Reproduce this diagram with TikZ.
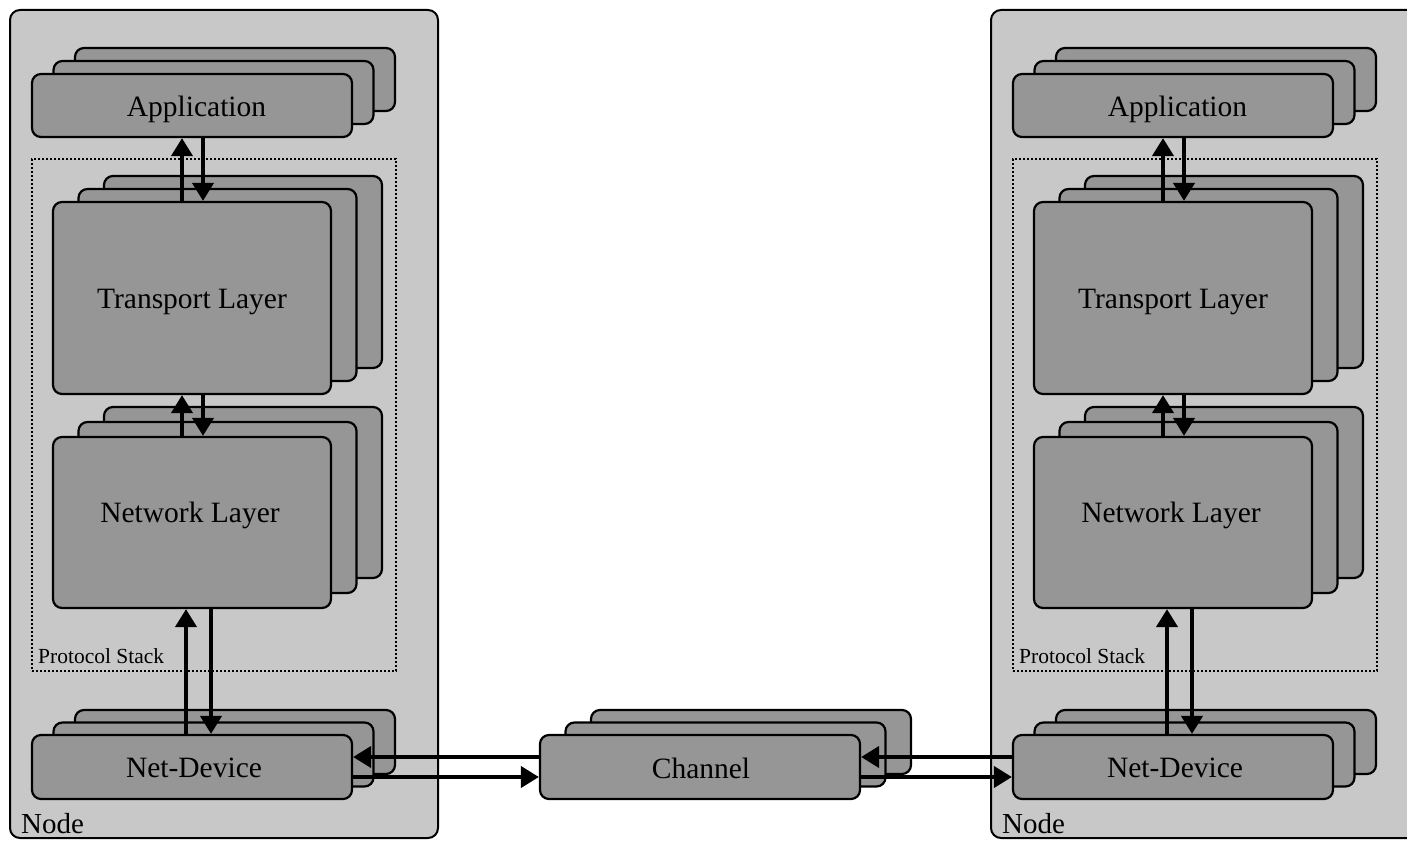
\documentclass[tikz,border=0pt]{standalone}
\usepackage{fontspec}
\setmainfont{Liberation Serif}
\usetikzlibrary{arrows.meta}
\definecolor{nodegray}{RGB}{200,200,200}
\definecolor{boxgray}{RGB}{150,150,150}
\tikzset{
  nodebg/.style={draw=black, line width=2pt, fill=nodegray, rounded corners=10pt, inner sep=0pt},
  layerbox/.style={draw=black, line width=2.2pt, fill=boxgray, rounded corners=9pt, inner sep=0pt},
  boxtext/.style={anchor=base, inner sep=0pt, font=\fontsize{29.5}{34}\selectfont},
  flow/.style={line width=4pt, -{Triangle[length=18pt,width=21pt]}},
  stackframe/.style={draw=black, line width=1.8pt, dash pattern=on 1.8pt off 2.2pt, inner sep=0pt},
  smalllabel/.style={anchor=base west, inner sep=0pt, font=\fontsize{21.5}{24}\selectfont},
  biglabel/.style={anchor=base west, inner sep=0pt, font=\fontsize{29}{34}\selectfont},
}
% name, cx, cy, w, h, dx, dy(lift), text, text x, text baseline
\newcommand\layerstack[7]{%
  \node[layerbox, minimum width=#4pt, minimum height=#5pt] (#1-b) at (#2+2*#6, #3-2*#7) {};
  \node[layerbox, minimum width=#4pt, minimum height=#5pt] (#1-m) at (#2+#6, #3-#7) {};
  \node[layerbox, minimum width=#4pt, minimum height=#5pt] (#1) at (#2, #3) {};
}
\newcommand\hoststack[1]{%
  \node[nodebg, minimum width=428pt, minimum height=828pt] (#1-node) at (224,424) {};
  \node[stackframe, minimum width=364pt, minimum height=512pt] (#1-ps) at (214,415) {};
  \node[smalllabel] (#1-pslabel) at (38,663) {Protocol Stack};
  \node[biglabel] (#1-nodelabel) at (21,833) {Node};
  \layerstack{#1-app}{192}{105.5}{320}{63}{21.5}{13}
  \node[boxtext] (#1-app-t) at (196.5,117) {Application};
  \layerstack{#1-tr}{192}{298}{278}{192}{25.5}{13}
  \node[boxtext] (#1-tr-t) at (192,308) {Transport Layer};
  \layerstack{#1-net}{192}{522.5}{278}{171}{25.5}{15}
  \node[boxtext] (#1-net-t) at (190,522) {Network Layer};
  \layerstack{#1-nd}{192}{767}{320}{64}{21.5}{12.5}
  \node[boxtext] (#1-nd-t) at (194,777) {Net-Device};
  \draw[flow] ([xshift=-10pt]#1-tr.north) -- ([xshift=-10pt]#1-app.south);
  \draw[flow] ([xshift=11pt]#1-app.south) -- ([xshift=11pt]#1-tr.north);
  \draw[flow] ([xshift=-10pt]#1-net.north) -- ([xshift=-10pt]#1-tr.south);
  \draw[flow] ([xshift=11pt]#1-tr.south) -- ([xshift=11pt]#1-net.north);
  \draw[flow] ([xshift=-6pt]#1-nd.north) -- ([xshift=-6pt]#1-net.south);
  \draw[flow] ([xshift=19pt]#1-net.south) -- ([xshift=19pt]#1-nd.north);
}
\begin{document}
\begin{tikzpicture}[x=1pt, y=-1pt]
  \useasboundingbox (0,0) rectangle (1407,840);
  \clip (0,0) rectangle (1407,840);
  \hoststack{L}
  \begin{scope}[xshift=981pt]
    \hoststack{R}
  \end{scope}
  \layerstack{ch}{700}{767}{320}{64}{25.5}{12.5}
  \node[boxtext] (ch-t) at (701,778) {Channel};
  \draw[flow] ([yshift=10pt]ch.west) -- ([yshift=10pt]L-nd.east);
  \draw[flow] ([yshift=-10pt]L-nd.east) -- ([yshift=-10pt]ch.west);
  \draw[flow] ([yshift=10pt]R-nd.west) -- ([yshift=10pt]ch.east);
  \draw[flow] ([yshift=-10pt]ch.east) -- ([yshift=-10pt]R-nd.west);
\end{tikzpicture}
\end{document}
